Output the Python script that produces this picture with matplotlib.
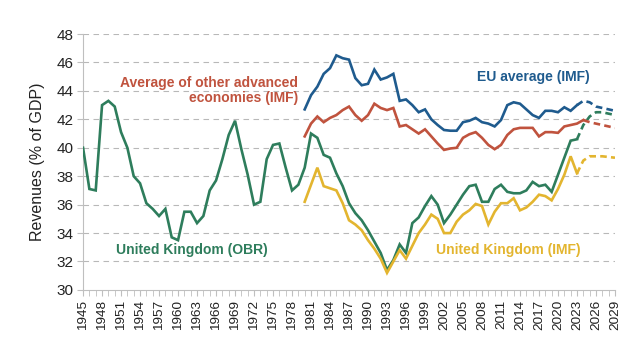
import numpy as np
import matplotlib
matplotlib.use("Agg")
import matplotlib.pyplot as plt

plt.rcParams['font.family'] = ['Liberation Sans', 'DejaVu Sans']

# UK revenues, OBR (1945-2029)
obr_years = list(range(1945, 2030))
obr = [40.0, 37.1, 37.0, 43.0, 43.3, 42.9, 41.1, 40.0, 38.0, 37.5,
       36.1, 35.7, 35.2, 35.7, 33.7, 33.5, 35.5, 35.5, 34.7, 35.2,
       37.0, 37.7, 39.2, 40.9, 41.9, 39.9, 38.1, 36.0, 36.2, 39.2,
       40.2, 40.3, 38.6, 37.0, 37.4, 38.6, 41.0, 40.7, 39.5, 39.3,
       38.2, 37.3, 36.1, 35.4, 34.9, 34.2, 33.4, 32.6, 31.4, 32.1,
       33.2, 32.6, 34.7, 35.1, 35.9, 36.6, 36.0, 34.7, 35.3, 36.0,
       36.7, 37.3, 37.4, 36.2, 36.2, 37.1, 37.4, 36.9, 36.8, 36.8,
       37.0, 37.6, 37.3, 37.4, 36.9, 38.1, 39.3, 40.5, 40.6, 41.6,
       42.2, 42.5, 42.5, 42.4, 42.3]

# IMF series (1980-2029)
imf_years = list(range(1980, 2030))
eu = [42.7, 43.7, 44.3, 45.2, 45.6, 46.5, 46.3, 46.2, 44.9, 44.4,
      44.5, 45.5, 44.8, 44.95, 45.2, 43.3, 43.4, 43.0, 42.5, 42.7,
      42.0, 41.6, 41.25, 41.2, 41.2, 41.8, 41.9, 42.1, 41.8, 41.7,
      41.5, 41.95, 43.0, 43.2, 43.1, 42.7, 42.3, 42.1, 42.6, 42.6,
      42.5, 42.85, 42.6, 43.0, 43.3, 43.2, 42.9, 42.8, 42.7, 42.6]
adv = [40.8, 41.7, 42.2, 41.8, 42.1, 42.3, 42.65, 42.9, 42.3, 41.9,
       42.3, 43.1, 42.8, 42.65, 42.8, 41.5, 41.6, 41.3, 41.0, 41.3,
       40.8, 40.3, 39.85, 39.95, 40.0, 40.7, 40.95, 41.1, 40.7, 40.2,
       39.9, 40.2, 40.9, 41.3, 41.4, 41.4, 41.4, 40.8, 41.1, 41.1,
       41.05, 41.5, 41.6, 41.7, 41.95, 41.8, 41.7, 41.6, 41.5, 41.4]
uk_imf = [36.2, 37.4, 38.6, 37.3, 37.15, 37.0, 36.1, 34.9, 34.6, 34.2,
          33.5, 32.9, 32.2, 31.2, 32.0, 32.8, 32.2, 33.1, 34.0, 34.6,
          35.3, 35.0, 34.0, 34.0, 34.8, 35.3, 35.6, 36.05, 35.9, 34.6,
          35.5, 36.1, 36.1, 36.45, 35.6, 35.8, 36.2, 36.7, 36.6, 36.3,
          37.1, 38.1, 39.4, 38.2, 39.1, 39.4, 39.4, 39.4, 39.35, 39.3]

green = '#2e7d5c'
blue = '#1f5b8e'
red = '#c0533e'
yellow = '#e3b52f'

fig = plt.figure(figsize=(6.34, 3.51), dpi=100)
ax = fig.add_axes([0.131, 0.174, 0.839, 0.729])


def draw(years, vals, last_solid, color):
    years = np.array(years)
    vals = np.array(vals)
    k = list(years).index(last_solid)
    ax.plot(years[:k + 1], vals[:k + 1], color=color, lw=1.9, solid_joinstyle='miter', zorder=3)
    ax.plot(years[k:], vals[k:], color=color, lw=1.9, ls=(0, (2.5, 1.6)), zorder=3)


draw(obr_years, obr, 2023, green)
draw(imf_years, eu, 2023, blue)
draw(imf_years, adv, 2024, red)
draw(imf_years, uk_imf, 2023, yellow)

ax.set_xlim(1945, 2029)
ax.set_ylim(30, 48)
ax.set_yticks(np.arange(30, 49, 2))
ax.set_xticks(np.arange(1945, 2030, 3))
ax.set_xticks(np.arange(1945, 2030, 1), minor=True)
ax.set_xticklabels([str(y) for y in range(1945, 2030, 3)], rotation=90, fontsize=9.7, color='#222222')
ax.tick_params(axis='y', labelsize=11, colors='#222222', length=4, color='#bfbfbf', pad=3)
ax.tick_params(axis='x', which='both', length=4, color='#bfbfbf', pad=3)

for g in np.arange(32, 49, 2):
    ax.axhline(g, color='#b8b8b8', lw=0.8, ls=(0, (5, 4)), zorder=1)

for s in ['top', 'right']:
    ax.spines[s].set_visible(False)
for s in ['left', 'bottom']:
    ax.spines[s].set_color('#bfbfbf')
    ax.spines[s].set_linewidth(0.8)

ax.set_ylabel('Revenues (% of GDP)', fontsize=11.5, color='#222222', labelpad=8)

ax.text(1979.0, 44.03, 'Average of other advanced\neconomies (IMF)', color=red, fontsize=10,
        fontweight='bold', ha='right', va='center', multialignment='right', linespacing=1.1)
ax.text(2007.2, 44.98, 'EU average (IMF)', color=blue, fontsize=10, fontweight='bold',
        ha='left', va='center')
ax.text(1950.2, 32.8, 'United Kingdom (OBR)', color=green, fontsize=10, fontweight='bold',
        ha='left', va='center')
ax.text(2000.7, 32.8, 'United Kingdom (IMF)', color=yellow, fontsize=10, fontweight='bold',
        ha='left', va='center')

fig.savefig('out.png', dpi=100)
